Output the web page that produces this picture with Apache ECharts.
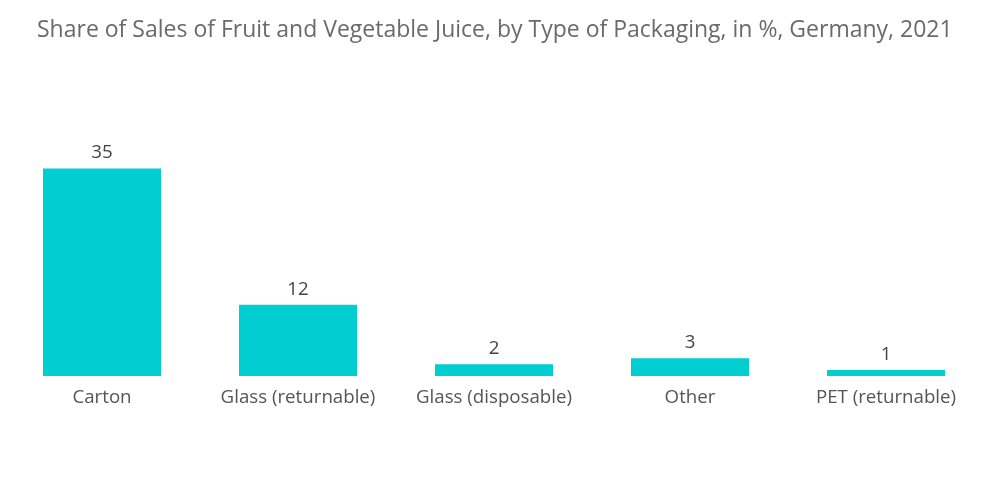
<!DOCTYPE html>
<html><head><meta charset="utf-8">
<script src="https://cdn.jsdelivr.net/npm/echarts@6/dist/echarts.min.js"></script>
<style>html,body{margin:0;padding:0;background:#fff}#c{width:1000px;height:504px}</style>
</head><body><div id="c"></div>
<script>
const categories = ["Carton", "Glass (returnable)", "Glass (disposable)", "Other", "PET (returnable)"];
const shares = [35, 12, 2, 3, 1];
const chart = echarts.init(document.getElementById('c'));
chart.setOption({
  animation: false,
  title: {
    text: "Share of Sales of Fruit and Vegetable Juice, by Type of Packaging, in %, Germany, 2021",
    left: 32, top: 14,
    textStyle: {fontFamily: "Open Sans", fontWeight: "normal", fontSize: 23, color: "#6a6a6a"}
  },
  grid: {left: 4, right: 16, top: 168.5, bottom: 128, containLabel: false},
  xAxis: {
    type: "category", data: categories,
    axisLine: {show: false}, axisTick: {show: false},
    axisLabel: {interval: 0, hideOverlap: false, fontFamily: "Open Sans", fontSize: 18.7, color: "#555555", margin: 12}
  },
  yAxis: {type: "value", min: 0, max: 35, show: false, splitLine: {show: false}},
  series: [{
    type: "bar", data: shares, barWidth: 118,
    itemStyle: {color: "#00CED1"},
    label: {show: true, position: "top", distance: 6, fontFamily: "Open Sans", fontSize: 18.7, color: "#444444"}
  }]
});
</script></body></html>
